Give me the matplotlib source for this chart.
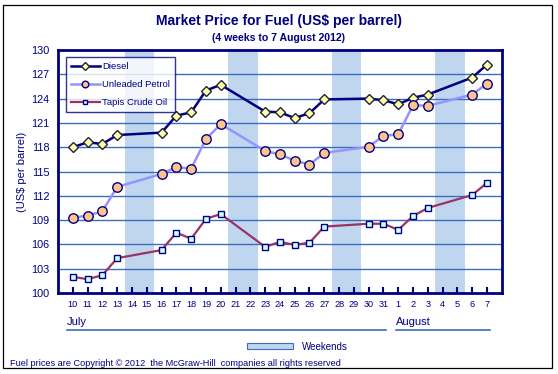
import numpy as np
import matplotlib
matplotlib.use("Agg")
import matplotlib.pyplot as plt
from matplotlib.patches import Rectangle
from matplotlib.transforms import blended_transform_factory

plt.rcParams['font.family'] = ['Liberation Sans', 'DejaVu Sans']

# ---- data ----
days = ["10", "11", "12", "13", "14", "15", "16", "17", "18", "19", "20", "21", "22",
        "23", "24", "25", "26", "27", "28", "29", "30", "31", "1", "2", "3", "4", "5", "6", "7"]
months = ["July", "August"]
month_of_day = ["July"] * 22 + ["August"] * 7
weekend_days = ["14", "15", "21", "22", "28", "29", "4", "5"]

N = np.nan
diesel = [118.0, 118.6, 118.4, 119.5, N, N, 119.8, 121.9, 122.3, 125.0, 125.7, N, N,
          122.4, 122.3, 121.6, 122.2, 123.9, N, N, 124.0, 123.8, 123.3, 124.1, 124.5, N, N, 126.6, 128.2]
unleaded = [109.3, 109.55, 110.1, 113.1, N, N, 114.7, 115.55, 115.35, 119.0, 120.85, N, N,
            117.55, 117.1, 116.35, 115.85, 117.3, N, N, 118.05, 119.4, 119.6, 123.2, 123.1, N, N, 124.5, 125.85]
tapis = [102.0, 101.7, 102.2, 104.3, N, N, 105.3, 107.45, 106.7, 109.15, 109.75, N, N,
         105.7, 106.3, 105.95, 106.2, 108.2, N, N, 108.55, 108.55, 107.8, 109.5, 110.5, N, N, 112.1, 113.6]
series_names = ["Diesel", "Unleaded Petrol", "Tapis Crude Oil"]
yticks = [100, 103, 106, 109, 112, 115, 118, 121, 124, 127, 130]

navy = "#000080"
W, H = 558, 374
fig = plt.figure(figsize=(W / 100, H / 100), dpi=100)

def fx(px):
    return px / W

def fy(py):
    return 1 - py / H

# outer border
fig.patches.append(Rectangle((fx(3), fy(368)), fx(552) - fx(3), fy(5) - fy(368),
                             transform=fig.transFigure, fill=False, edgecolor="black", lw=0.9))

ax = fig.add_axes([fx(58), fy(293), fx(501.8) - fx(58), fy(50) - fy(293)])
x = np.arange(len(days))

# weekend bands
wk_idx = [i for i, d in enumerate(days) if d in weekend_days]
i = 0
while i < len(wk_idx):
    j = i
    while j + 1 < len(wk_idx) and wk_idx[j + 1] == wk_idx[j] + 1:
        j += 1
    ax.axvspan(wk_idx[i] - 0.5, wk_idx[j] + 0.5, color="#c0d6ee", lw=0, zorder=0)
    i = j + 1

for yv in yticks[1:-1]:
    ax.axhline(yv, color="#3c6cbc", lw=1.0, zorder=1)

styles = [
    dict(color=navy, marker="D", markersize=5.2, markerfacecolor="#ffffa6", markeredgecolor="#202040", lw=1.8),
    dict(color="#9494ff", marker="o", markersize=6.8, markerfacecolor="#ffc48c", markeredgecolor=navy, lw=1.8),
    dict(color="#993366", marker="s", markersize=5.0, markerfacecolor="#ccffff", markeredgecolor=navy, lw=1.6),
]
for name, vals, st in zip(series_names, [diesel, unleaded, tapis], styles):
    v = np.array(vals, dtype=float)
    m = ~np.isnan(v)
    ax.plot(x[m], v[m], label=name, markeredgewidth=1.0, zorder=3, **st)

ax.set_xlim(-1, len(days))
ax.set_ylim(100, 130)
ax.set_yticks(yticks)
ax.set_yticklabels([str(t) for t in yticks], fontsize=7.8, color=navy)
ax.set_xticks(x)
ax.set_xticklabels(days, fontsize=6.6, color=navy)
ax.tick_params(axis="x", direction="in", length=4, width=1.5, color=navy, pad=5)
ax.tick_params(axis="y", length=0, pad=6)
for s in ax.spines.values():
    s.set_color(navy)
    s.set_linewidth(2)

ax.set_ylabel("(US$ per barrel)", fontsize=8, color=navy, labelpad=3)

leg = ax.legend(loc="upper left", bbox_to_anchor=(0.018, 0.972), borderaxespad=0,
                fontsize=6.8, frameon=True, fancybox=False, handlelength=3.0,
                labelspacing=0.95, borderpad=0.55, handletextpad=0.3, markerscale=0.7)
leg.get_frame().set_edgecolor(navy)
leg.get_frame().set_linewidth(1.0)
for t in leg.get_texts():
    t.set_color(navy)
leg.set_zorder(5)

# month labels + underlines
tr = blended_transform_factory(ax.transData, ax.transAxes)
for mo in months:
    idx = [k for k, mm in enumerate(month_of_day) if mm == mo]
    x0 = idx[0] - 0.38 if mo == months[0] else idx[0] - 0.15
    x1 = idx[-1] + 0.2
    ax.plot([x0, x1], [-0.153, -0.153], transform=tr, color="#3c6cbc", lw=1.2, clip_on=False)
    ax.text(x0, -0.139, mo, transform=tr, fontsize=8, color=navy, ha="left", va="bottom")

# titles
fig.text(0.5, fy(21), "Market Price for Fuel (US$ per barrel)", ha="center", va="center",
         fontsize=10, fontweight="bold", color=navy)
fig.text(0.5, fy(38), "(4 weeks to 7 August 2012)", ha="center", va="center",
         fontsize=7.6, fontweight="bold", color=navy)

# weekends legend
fig.patches.append(Rectangle((fx(247), fy(349)), fx(292.5) - fx(247), fy(343.4) - fy(349),
                             transform=fig.transFigure, facecolor="#c0d6ee", edgecolor="#3c6cbc", lw=0.8))
fig.text(fx(302), fy(346.5), "Weekends", ha="left", va="center", fontsize=7, color=navy)

fig.text(fx(10), fy(366), "Fuel prices are Copyright \u00a9 2012  the McGraw-Hill  companies all rights reserved",
         ha="left", va="baseline", fontsize=6.6, color=navy)

fig.savefig("out.png", dpi=100)
